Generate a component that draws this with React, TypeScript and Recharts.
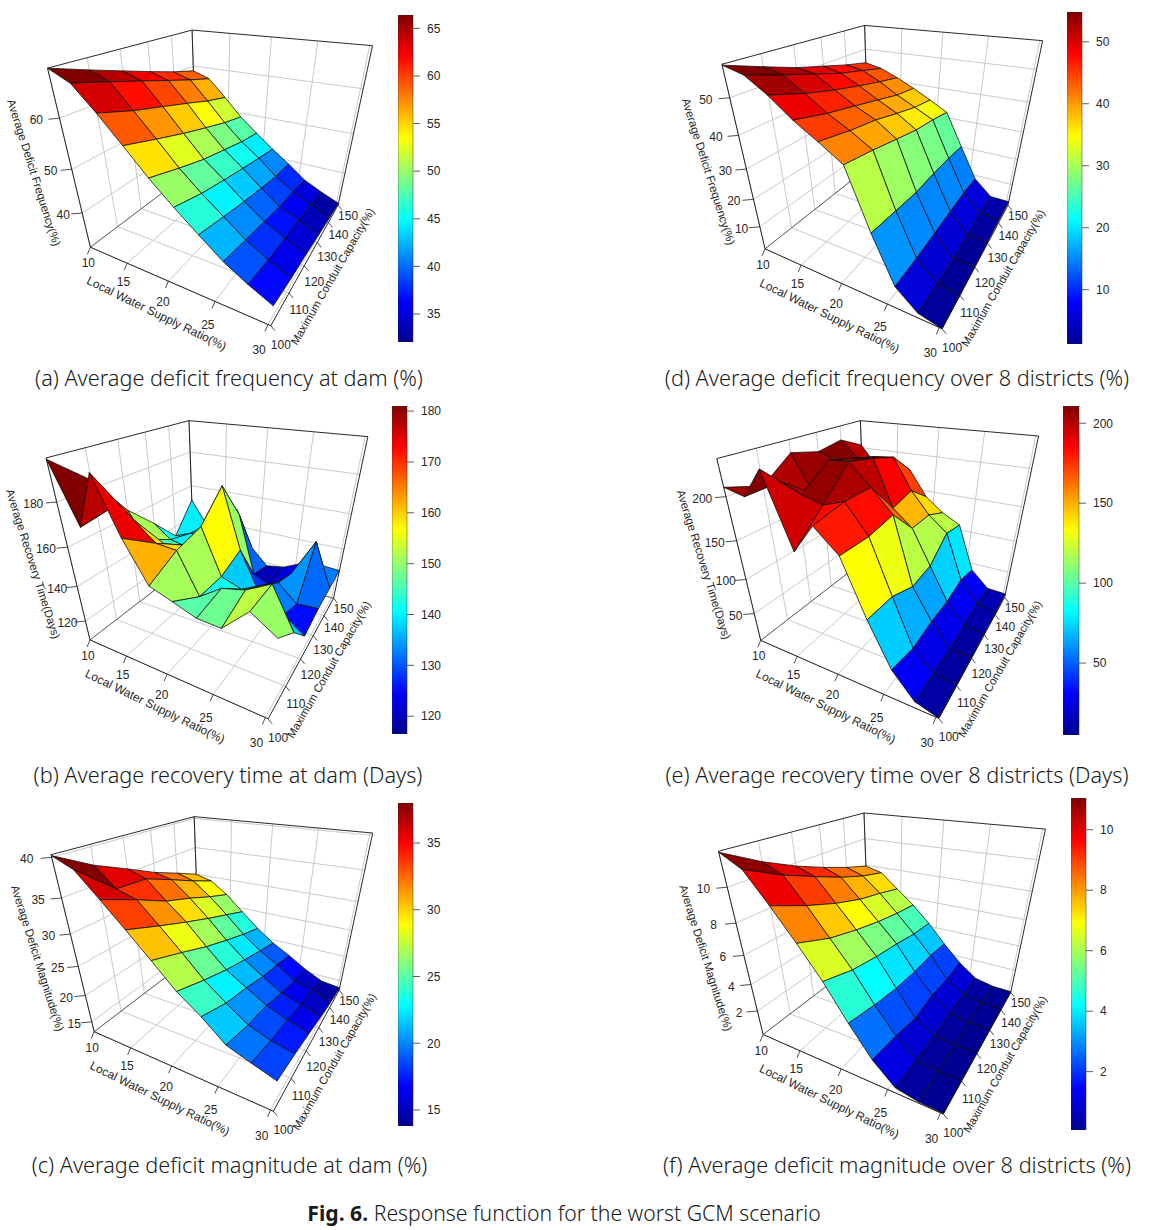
import React from 'react';
import { Bar, BarChart, Polygon, Scatter, ScatterChart, XAxis, YAxis } from 'recharts';

// Local water supply ratio (%) and maximum conduit capacity (%) of the response grid
const supplyRatio = [10, 12.25, 14.5, 16.75, 19, 21.25, 23.5, 25.75, 28, 30.25];
const conduitCapacity = [100, 110, 120, 130, 140, 150];
const supplyTicks = [10, 15, 20, 25, 30];

// one row per supply ratio, one column per conduit capacity
const deficitFreqDam = [
  [68.4, 66.3, 64.3, 62.3, 60.4, 58.8],
  [66.6, 64.8, 62.9, 61.0, 59.1, 57.4],
  [62.5, 60.3, 58.5, 56.7, 54.8, 53.3],
  [57.9, 55.8, 53.8, 52.0, 50.3, 49.0],
  [53.2, 51.1, 49.2, 47.8, 46.4, 45.5],
  [49.0, 47.1, 45.7, 44.4, 43.2, 42.1],
  [45.1, 43.5, 42.0, 40.7, 39.5, 39.0],
  [41.3, 39.9, 38.7, 37.3, 36.7, 35.6],
  [38.4, 37.1, 36.2, 35.4, 34.4, 33.4],
  [35.9, 34.8, 34.1, 33.1, 32.2, 31.5],
];
const deficitFreqDistricts = [
  [57.8, 54.7, 51.7, 49.4, 47.1, 45.2],
  [56.4, 53.4, 50.7, 48.0, 46.0, 43.9],
  [52.7, 49.6, 47.1, 45.0, 43.1, 41.4],
  [48.0, 45.5, 43.6, 41.6, 39.6, 38.5],
  [44.2, 42.2, 40.7, 38.5, 36.5, 35.3],
  [40.1, 38.4, 36.4, 34.5, 33.4, 31.9],
  [23.4, 22.3, 21.2, 21.3, 21.0, 20.1],
  [8.9, 8.6, 8.7, 9.0, 9.3, 8.5],
  [2.9, 2.3, 1.7, 2.0, 2.9, 2.8],
  [1.2, 1.2, 1.5, 2.0, 2.5, 2.7],
];
const recoveryDam = [
  [196.5, 183.7, 163.7, 149.4, 134.0, 150.9],
  [171.4, 173.7, 150.0, 142.0, 138.0, 136.0],
  [194.4, 169.7, 150.0, 140.0, 140.0, 140.0],
  [171.5, 161.2, 152.1, 143.0, 148.0, 150.2],
  [153.6, 160.4, 163.8, 177.0, 156.0, 128.0],
  [149.9, 140.7, 140.7, 146.0, 122.0, 118.0],
  [145.9, 148.4, 136.9, 126.0, 117.0, 120.0],
  [145.3, 151.0, 142.7, 133.3, 128.3, 125.5],
  [156.8, 157.1, 130.0, 124.0, 150.1, 127.3],
  [149.6, 138.0, 122.0, 125.0, 125.8, 126.7],
];
const recoveryDistricts = [
  [209.7, 197.0, 223.2, 214.3, 219.9, 203.9],
  [204.5, 205.9, 178.0, 206.9, 198.1, 174.9],
  [235.0, 195.9, 221.0, 212.1, 203.4, 180.8],
  [157.2, 189.2, 222.4, 215.2, 205.7, 176.9],
  [190.5, 197.6, 198.0, 156.9, 165.0, 141.3],
  [166.5, 165.3, 171.0, 135.4, 135.5, 121.4],
  [102.7, 100.3, 84.7, 88.3, 114.4, 107.5],
  [48.0, 37.7, 41.8, 41.0, 47.8, 38.6],
  [15.6, 11.6, 9.9, 11.9, 16.5, 13.6],
  [6.5, 6.5, 6.5, 8.6, 8.5, 12.0],
];
const magnitudeDam = [
  [40.2, 37.6, 35.6, 33.5, 31.8, 30.0],
  [39.0, 34.9, 34.6, 32.8, 30.9, 29.2],
  [36.0, 34.0, 31.8, 30.3, 28.6, 27.1],
  [32.9, 31.0, 29.2, 27.5, 25.9, 24.3],
  [29.7, 27.9, 26.0, 24.4, 22.9, 21.6],
  [26.4, 24.6, 23.0, 21.7, 20.5, 19.3],
  [23.9, 22.0, 20.9, 19.5, 18.6, 17.5],
  [20.9, 19.6, 18.9, 17.4, 16.3, 15.5],
  [19.6, 18.3, 17.5, 16.4, 15.5, 13.9],
  [18.4, 17.5, 16.4, 15.2, 14.2, 13.5],
];
const magnitudeDistricts = [
  [11.75, 10.69, 9.82, 9.1, 8.46, 7.93],
  [11.11, 10.15, 9.37, 8.63, 8.03, 7.6],
  [9.53, 8.66, 7.93, 7.35, 6.97, 6.53],
  [7.82, 7.0, 6.47, 6.04, 5.71, 5.48],
  [5.99, 5.34, 4.97, 4.71, 4.38, 4.23],
  [3.82, 3.38, 3.05, 2.93, 2.96, 2.78],
  [1.85, 1.61, 1.17, 1.46, 1.33, 1.47],
  [0.45, 0.35, 0.35, 0.4, 0.45, 0.45],
  [0.15, 0.12, 0.12, 0.12, 0.2, 0.15],
  [0.1, 0.1, 0.1, 0.1, 0.12, 0.1],
];

const FONT = '"Liberation Sans", Arial, sans-serif';
const CAPTION_FONT = '"Noto Sans", sans-serif';
const JET: [number, number[]][] = [
  [0, [0, 0, 143]],
  [0.125, [0, 0, 255]],
  [0.375, [0, 255, 255]],
  [0.625, [255, 255, 0]],
  [0.875, [255, 0, 0]],
  [1, [128, 0, 0]],
];

function jet(t: number) {
  const v = Math.min(1, Math.max(0, t));
  let k = 0;
  while (k < JET.length - 2 && v > JET[k + 1][0]) k++;
  const [a, ca] = JET[k];
  const [b, cb] = JET[k + 1];
  const f = (v - a) / (b - a);
  return `rgb(${ca.map((c, i) => Math.round(c + (cb[i] - c) * f)).join(',')})`;
}

type Pt = [number, number];

// box corners as seen in the figure: A B C D on the floor, then A' D' C' at the top
const CUBE = [[0, 0, 0], [1, 0, 0], [1, 1, 0], [0, 1, 0], [0, 0, 1], [0, 1, 1], [1, 1, 1]];

function solve(A: number[][], b: number[]) {
  const n = b.length;
  const M = A.map((r, i) => [...r, b[i]]);
  for (let c = 0; c < n; c++) {
    let p = c;
    for (let r = c + 1; r < n; r++) if (Math.abs(M[r][c]) > Math.abs(M[p][c])) p = r;
    [M[c], M[p]] = [M[p], M[c]];
    for (let r = 0; r < n; r++) {
      if (r === c) continue;
      const f = M[r][c] / M[c][c];
      for (let k = c; k <= n; k++) M[r][k] -= f * M[c][k];
    }
  }
  return M.map((r, i) => r[n] / r[i]);
}

// least squares camera from the box corners, same idea as the persp() view matrix
function fitCamera(pts: Pt[]) {
  const rows: number[][] = [];
  const rhs: number[] = [];
  pts.forEach((q, i) => {
    const [u, v, w] = CUBE[i];
    const x = q[0] / 1000;
    const y = q[1] / 1000;
    rows.push([u, v, w, 1, 0, 0, 0, 0, -x * u, -x * v, -x * w]);
    rhs.push(x);
    rows.push([0, 0, 0, 0, u, v, w, 1, -y * u, -y * v, -y * w]);
    rhs.push(y);
  });
  const A = Array.from({ length: 11 }, (_, i) =>
    Array.from({ length: 11 }, (_, j) => rows.reduce((s, r) => s + r[i] * r[j], 0)),
  );
  const b = Array.from({ length: 11 }, (_, i) => rows.reduce((s, r, k) => s + r[i] * rhs[k], 0));
  const p = solve(A, b);
  return (u: number, v: number, w: number) => {
    const d = p[8] * u + p[9] * v + p[10] * w + 1;
    return {
      x: ((p[0] * u + p[1] * v + p[2] * w + p[3]) / d) * 1000,
      y: ((p[4] * u + p[5] * v + p[6] * w + p[7]) / d) * 1000,
    };
  };
}

type PanelDef = {
  caption: string;
  zLabel: string;
  values: number[][];
  zRange: Pt;
  zTicks: number[];
  barRange: Pt;
  barTicks: number[];
  origin: Pt;
  corners: Pt[];
  bar: number[];
  captionCenter: Pt;
};

const panels: PanelDef[] = [
  {
    caption: '(a) Average deficit frequency at dam (%)',
    zLabel: 'Average Deficit Frequency(%)',
    values: deficitFreqDam,
    zRange: [31, 68.4],
    zTicks: [40, 50, 60],
    barRange: [32.06, 66.4],
    barTicks: [35, 40, 45, 50, 55, 60, 65],
    origin: [0, 0],
    corners: [[275, 735], [810, 985], [1018, 605], [585, 510], [140, 205], [580, 85], [1115, 143]],
    bar: [398, 15, 15, 327],
    captionCenter: [229, 378],
  },
  {
    caption: '(d) Average deficit frequency over 8 districts (%)',
    zLabel: 'Average Deficit Frequency(%)',
    values: deficitFreqDistricts,
    zRange: [1.2, 58],
    zTicks: [10, 20, 30, 40, 50],
    barRange: [1.24, 54.8],
    barTicks: [10, 20, 30, 40, 50],
    origin: [660, 0],
    corners: [[318, 738], [845, 995], [1047, 605], [623, 510], [183, 195], [618, 70], [1145, 128]],
    bar: [1067, 12, 15, 332],
    captionCenter: [897, 378],
  },
  {
    caption: '(b) Average recovery time at dam (Days)',
    zLabel: 'Average Recovery Time(Days)',
    values: recoveryDam,
    zRange: [108, 197],
    zTicks: [120, 140, 160, 180],
    barRange: [116.5, 181],
    barTicks: [120, 130, 140, 150, 160, 170, 180],
    origin: [0, 400],
    corners: [[272, 710], [805, 965], [1003, 585], [578, 490], [135, 178], [572, 55], [1100, 115]],
    bar: [392, 406, 15, 328],
    captionCenter: [228, 775],
  },
  {
    caption: '(e) Average recovery time over 8 districts (Days)',
    zLabel: 'Average Recovery Time(Days)',
    values: recoveryDistricts,
    zRange: [6, 238],
    zTicks: [50, 100, 150, 200],
    barRange: [5, 210.8],
    barTicks: [50, 100, 150, 200],
    origin: [660, 400],
    corners: [[305, 712], [835, 965], [1037, 580], [612, 490], [168, 178], [605, 55], [1133, 115]],
    bar: [1063, 406, 16, 329],
    captionCenter: [897, 775],
  },
  {
    caption: '(c) Average deficit magnitude at dam (%)',
    zLabel: 'Average Deficit Magnitude(%)',
    values: magnitudeDam,
    zRange: [13, 40.3],
    zTicks: [15, 20, 25, 30, 35, 40],
    barRange: [13.8, 38],
    barTicks: [15, 20, 25, 30, 35],
    origin: [0, 795],
    corners: [[285, 703], [820, 955], [1020, 578], [593, 478], [150, 182], [587, 60], [1115, 118]],
    bar: [398, 803, 15, 323],
    captionCenter: [229.5, 1165],
  },
  {
    caption: '(f) Average deficit magnitude over 8 districts (%)',
    zLabel: 'Average Deficit Magnitude(%)',
    values: magnitudeDistricts,
    zRange: [0.05, 11.8],
    zTicks: [2, 4, 6, 8, 10],
    barRange: [0.07, 11.05],
    barTicks: [2, 4, 6, 8, 10],
    origin: [660, 790],
    corners: [[312, 725], [850, 980], [1055, 598], [623, 500], [172, 187], [617, 63], [1153, 122]],
    bar: [1071, 798, 15, 332],
    captionCenter: [897, 1165],
  },
];

const noDot = () => <g />;

const CHART_W = 460;
const CHART_H = 395;
const uOf = (s: number) =>
  (s - supplyRatio[0]) / (supplyRatio[supplyRatio.length - 1] - supplyRatio[0]);
const vOf = (c: number) =>
  (c - conduitCapacity[0]) / (conduitCapacity[conduitCapacity.length - 1] - conduitCapacity[0]);

function lineSeries(key: string, pts: { x: number; y: number }[], stroke: string, width: number) {
  return (
    <Scatter
      key={key}
      data={pts}
      shape={noDot}
      line={{ stroke, strokeWidth: width }}
      isAnimationActive={false}
    />
  );
}

function textSeries(
  key: string,
  pts: { x: number; y: number; label: string }[],
  size: number,
  rotate = 0,
) {
  const shape = (p: any) => (
    <text
      x={p.cx}
      y={p.cy}
      fontFamily={FONT}
      fontSize={size}
      fill="#262626"
      textAnchor="middle"
      dominantBaseline="central"
      transform={rotate ? `rotate(${rotate} ${p.cx} ${p.cy})` : undefined}
    >
      {p.payload.label}
    </text>
  );
  return <Scatter key={key} data={pts} shape={shape} isAnimationActive={false} />;
}

function SurfacePanel({ def }: { def: PanelDef }) {
  const [ox, oy] = def.origin;
  const project = fitCamera(def.corners.map((c) => [ox + c[0] / 3, oy + c[1] / 3] as Pt));
  const [zLo, zHi] = def.zRange;
  const wOf = (z: number) => (z - zLo) / (zHi - zLo);
  const shift = (p: { x: number; y: number }, dx: number, dy: number) => ({ x: p.x + dx, y: p.y + dy });
  const mid = (a: { x: number; y: number }, b: { x: number; y: number }, dx: number, dy: number, label: string) => ({
    x: (a.x + b.x) / 2 + dx,
    y: (a.y + b.y) / 2 + dy,
    label,
  });

  const A = project(0, 0, 0);
  const B = project(1, 0, 0);
  const C = project(1, 1, 0);
  const D = project(0, 1, 0);
  const At = project(0, 0, 1);
  const Ct = project(1, 1, 1);
  const Dt = project(0, 1, 1);

  const grid: React.ReactNode[] = [];
  const GRID = '#c9c9c9';
  supplyTicks.forEach((s) => {
    const u = uOf(s);
    grid.push(lineSeries(`gf${s}`, [project(u, 0, 0), project(u, 1, 0), project(u, 1, 1)], GRID, 1));
  });
  conduitCapacity.forEach((c) => {
    const v = vOf(c);
    grid.push(lineSeries(`gc${c}`, [project(1, v, 0), project(0, v, 0), project(0, v, 1)], GRID, 1));
  });
  def.zTicks.forEach((z) => {
    const w = wOf(z);
    grid.push(lineSeries(`gz${z}`, [project(0, 0, w), project(0, 1, w), project(1, 1, w)], GRID, 1));
  });

  // painter's order for this view: far supply ratios first, high capacities first
  const facets: React.ReactNode[] = [];
  const [barLo, barHi] = def.barRange;
  for (let i = 0; i < supplyRatio.length - 1; i++) {
    for (let j = conduitCapacity.length - 2; j >= 0; j--) {
      const z = def.values;
      const mean = (z[i][j] + z[i + 1][j] + z[i + 1][j + 1] + z[i][j + 1]) / 4;
      const fill = jet((mean - barLo) / (barHi - barLo));
      const corners = [
        project(uOf(supplyRatio[i]), vOf(conduitCapacity[j]), wOf(z[i][j])),
        project(uOf(supplyRatio[i + 1]), vOf(conduitCapacity[j]), wOf(z[i + 1][j])),
        project(uOf(supplyRatio[i + 1]), vOf(conduitCapacity[j + 1]), wOf(z[i + 1][j + 1])),
        project(uOf(supplyRatio[i]), vOf(conduitCapacity[j + 1]), wOf(z[i][j + 1])),
      ];
      facets.push(
        <Scatter
          key={`f${i}-${j}`}
          data={corners}
          shape={noDot}
          line={(p: any) => <Polygon points={p.points} fill={fill} stroke="#111" strokeWidth={0.8} />}
          isAnimationActive={false}
        />,
      );
    }
  }

  const ticks: React.ReactNode[] = [];
  supplyTicks.forEach((s) => {
    const p = project(uOf(s), 0, 0);
    ticks.push(lineSeries(`tx${s}`, [p, shift(p, -3, 7)], '#222', 0.8));
  });
  conduitCapacity.forEach((c) => {
    const p = project(1, vOf(c), 0);
    ticks.push(lineSeries(`ty${c}`, [p, shift(p, 4, 5)], '#222', 0.8));
  });
  def.zTicks.forEach((z) => {
    const p = project(0, 0, wOf(z));
    ticks.push(lineSeries(`tz${z}`, [p, shift(p, -11, 1)], '#222', 0.8));
  });

  return (
    <div style={{ position: 'absolute', left: ox, top: oy }}>
      <ScatterChart width={CHART_W} height={CHART_H} margin={{ top: 0, right: 0, bottom: 0, left: 0 }}>
        <XAxis type="number" dataKey="x" domain={[ox, ox + CHART_W]} hide />
        <YAxis type="number" dataKey="y" domain={[oy, oy + CHART_H]} reversed hide />
        {grid}
        {lineSeries('box1', [A, D, C], '#444', 0.8)}
        {lineSeries('box2', [D, Dt], '#111', 0.9)}
        {facets}
        {lineSeries('box4', [A, At, Dt, Ct, C, B, A], '#111', 0.9)}
        {ticks}
        {textSeries(
          'lx',
          supplyTicks.map((s) => {
            const u = uOf(s);
            return { ...shift(project(u, 0, 0), -2 - 7 * u, 16 + 10 * u), label: String(s) };
          }),
          12,
        )}
        {textSeries(
          'ly',
          conduitCapacity.map((c) => {
            const v = vOf(c);
            return { ...shift(project(1, v, 0), 10, 19 - 8 * v), label: String(c) };
          }),
          12,
        )}
        {textSeries(
          'lz',
          def.zTicks.map((z) => {
            const w = wOf(z);
            return { ...shift(project(0, 0, w), -17 - 8 * w, 2), label: String(z) };
          }),
          12,
        )}
        {textSeries('tx', [mid(A, B, -24, 27, 'Local Water Supply Ratio(%)')], 12, 26)}
        {textSeries('ty', [mid(B, C, 28, 11, 'Maximum Conduit Capacity(%)')], 11.3, -60)}
        {textSeries('tz', [mid(At, A, -35, 15, def.zLabel)], 11.5, 72.5)}
      </ScatterChart>
    </div>
  );
}

function ColorBar({ def, id }: { def: PanelDef; id: string }) {
  const [x, y, w, h] = def.bar;
  const pad = 8;
  const data = [{ name: 'bar', range: def.barRange }];
  return (
    <div style={{ position: 'absolute', left: x, top: y - pad }}>
      <BarChart
        width={w + 45}
        height={h + pad * 2}
        data={data}
        barCategoryGap={0}
        margin={{ top: pad, right: 0, bottom: pad, left: 0 }}
      >
        <defs>
          <linearGradient id={id} x1="0" y1="1" x2="0" y2="0">
            {JET.map(([at]) => (
              <stop key={at} offset={at} stopColor={jet(at)} />
            ))}
          </linearGradient>
        </defs>
        <XAxis dataKey="name" hide />
        <YAxis
          orientation="right"
          type="number"
          width={45}
          domain={def.barRange}
          ticks={def.barTicks}
          interval={0}
          allowDataOverflow
          axisLine={false}
          tickSize={7}
          tickMargin={7}
          tickLine={{ stroke: '#333', strokeWidth: 0.8 }}
          tick={{ fill: '#262626', fontSize: 12, fontFamily: FONT }}
        />
        <Bar dataKey="range" fill={`url(#${id})`} stroke="#333" strokeWidth={0.5} isAnimationActive={false} />
      </BarChart>
    </div>
  );
}

function Caption({ center, children, size = 21.7 }: { center: Pt; children: React.ReactNode; size?: number }) {
  return (
    <div
      style={{
        position: 'absolute',
        left: center[0] - 300,
        top: center[1] - 15,
        width: 600,
        height: 30,
        lineHeight: '30px',
        textAlign: 'center',
        fontFamily: CAPTION_FONT,
        fontSize: size,
        fontWeight: 300,
        color: '#1a1a1a',
        whiteSpace: 'nowrap',
      }}
    >
      {children}
    </div>
  );
}

export default function App() {
  return (
    <div style={{ position: 'absolute', left: 0, top: 0, width: 1150, height: 1230, background: '#fff', overflow: 'hidden' }}>
      {panels.map((p, k) => (
        <React.Fragment key={p.caption}>
          <SurfacePanel def={p} />
          <ColorBar def={p} id={`jet${k}`} />
          <Caption center={p.captionCenter}>{p.caption}</Caption>
        </React.Fragment>
      ))}
      <Caption center={[564, 1213]} size={21.2}>
        <b style={{ fontWeight: 700 }}>Fig. 6.</b> Response function for the worst GCM scenario
      </Caption>
    </div>
  );
}
